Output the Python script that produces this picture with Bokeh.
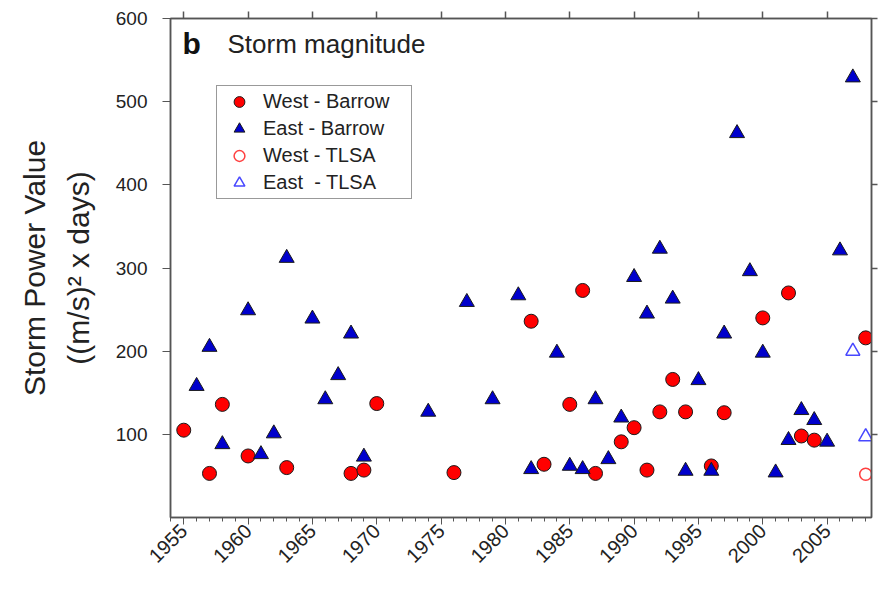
import math
from bokeh.plotting import figure
from bokeh.models import (Range1d, FixedTicker, LinearAxis, Legend, LegendItem, Label,
                          CustomLabelingPolicy)
from bokeh.embed import file_html
from bokeh.resources import INLINE

# ---- data ----
west_barrow_year = [1955, 1957, 1958, 1960, 1963, 1968, 1969, 1970, 1976, 1982, 1983, 1985, 1986,
                    1987, 1989, 1990, 1991, 1992, 1993, 1994, 1996, 1997, 2000, 2002, 2003, 2004, 2008]
west_barrow_value = [105, 53, 136, 74, 60, 53, 57, 137, 54, 236, 64, 136, 273,
                     53, 91, 108, 57, 127, 166, 127, 62, 126, 240, 270, 98, 93, 216]

east_barrow_year = [1956, 1957, 1958, 1960, 1961, 1962, 1963, 1965, 1966, 1967, 1968, 1969, 1974,
                    1977, 1979, 1981, 1982, 1984, 1985, 1986, 1987, 1988, 1989, 1990, 1991, 1992,
                    1993, 1994, 1995, 1996, 1997, 1998, 1999, 2000, 2001, 2002, 2003, 2004, 2005,
                    2006, 2007]
east_barrow_value = [158, 205, 88, 249, 76, 101, 312, 239, 142, 171, 221, 73, 127,
                     259, 142, 267, 58, 198, 62, 58, 142, 70, 120, 289, 245, 323,
                     263, 56, 165, 56, 221, 462, 296, 198, 54, 93, 129, 117, 91,
                     321, 529]

west_tlsa_year = [2008]
west_tlsa_value = [52]
east_tlsa_year = [2007, 2008]
east_tlsa_value = [200, 97]

x_tick_years = [1955, 1960, 1965, 1970, 1975, 1980, 1985, 1990, 1995, 2000, 2005]
x_minor_years = list(range(1954, 2009))
y_tick_values = [100, 200, 300, 400, 500, 600]

legend_labels = ["West - Barrow", "East - Barrow", "West - TLSA", "East\u00a0 - TLSA"]
panel_letter = "b"
panel_title = "Storm magnitude"
y_label_1 = "Storm Power Value"
y_label_2 = "((m/s)\u00b2 x days)"

FONT = "Liberation Sans"
AX = "#555555"
TXT = "#222222"

p = figure(width=882, height=573, output_backend="svg", toolbar_location=None,
           x_range=Range1d(1953.97, 2008.45), y_range=Range1d(0, 600),
           min_border_left=170, min_border_right=6, min_border_top=18, min_border_bottom=56)
p.background_fill_color = "white"
p.border_fill_color = "white"
p.outline_line_color = AX
p.outline_line_width = 1.5
p.xgrid.visible = False
p.ygrid.visible = False

# bottom axis
xa = p.xaxis[0]
xa.ticker = FixedTicker(ticks=x_tick_years, minor_ticks=x_minor_years)
xa.major_label_orientation = math.pi / 4
xa.major_label_text_font = FONT
xa.major_label_text_font_size = "20px"
xa.major_label_text_color = TXT
xa.major_label_standoff = 3
xa.major_tick_out = 7
xa.major_tick_in = 0
xa.minor_tick_out = 4
xa.minor_tick_in = 0
xa.axis_line_color = AX
xa.axis_line_width = 1.5
xa.major_tick_line_color = AX
xa.minor_tick_line_color = AX

# left axis with two-line title
ya = p.yaxis[0]
ya.ticker = FixedTicker(ticks=y_tick_values, minor_ticks=[])
ya.major_label_text_font = FONT
ya.major_label_text_font_size = "19px"
ya.major_label_text_color = TXT
ya.major_label_standoff = 15
ya.major_tick_out = 8
ya.major_tick_in = 0
ya.axis_line_color = AX
ya.axis_line_width = 1.5
ya.major_tick_line_color = AX
ya.axis_label = y_label_1 + "\n" + y_label_2
ya.axis_label_text_font = FONT
ya.axis_label_text_font_size = "30px"
ya.axis_label_text_font_style = "normal"
ya.axis_label_text_line_height = 1.33
ya.axis_label_text_color = TXT
ya.axis_label_standoff = 18

# top axis (ticks only)
ta = LinearAxis(ticker=FixedTicker(ticks=x_tick_years, minor_ticks=[]),
                major_label_text_font_size="1px", major_label_standoff=0,
                major_label_policy=CustomLabelingPolicy(code="return []"),
                major_tick_out=7, major_tick_in=0, minor_tick_out=0, minor_tick_in=0,
                axis_line_color=AX, axis_line_width=1.5, major_tick_line_color=AX,
                major_tick_line_width=1.5)
p.add_layout(ta, "above")

# right axis (ticks only)
ra = LinearAxis(ticker=FixedTicker(ticks=y_tick_values, minor_ticks=[]),
                major_label_text_font_size="1px", major_label_standoff=0,
                major_label_policy=CustomLabelingPolicy(code="return []"),
                major_tick_out=6, major_tick_in=0, minor_tick_out=0, minor_tick_in=0,
                axis_line_color=AX, axis_line_width=1.5, major_tick_line_color=AX,
                major_tick_line_width=1.5)
p.add_layout(ra, "right")

# markers
r_wb = p.scatter(west_barrow_year, west_barrow_value, marker="circle", size=14,
                 fill_color="#ff0000", line_color="#1a1a1a", line_width=1)
r_eb = p.scatter(east_barrow_year, east_barrow_value, marker="triangle", size=15,
                 fill_color="#0000cc", line_color="#1a1a1a", line_width=1)
r_wt = p.scatter(west_tlsa_year, west_tlsa_value, marker="circle", size=12,
                 fill_color=None, line_color="#ff4040", line_width=1.5)
r_et = p.scatter(east_tlsa_year, east_tlsa_value, marker="triangle", size=14,
                 fill_color=None, line_color="#4848ff", line_width=1.5)

legend = Legend(items=[LegendItem(label=legend_labels[0], renderers=[r_wb]),
                       LegendItem(label=legend_labels[1], renderers=[r_eb]),
                       LegendItem(label=legend_labels[2], renderers=[r_wt]),
                       LegendItem(label=legend_labels[3], renderers=[r_et])],
                location=(46, 318), padding=2, spacing=0,
                glyph_width=40, glyph_height=27, label_height=27, label_width=146,
                label_standoff=4, label_text_font=FONT, label_text_font_size="20px",
                label_text_color=TXT, border_line_color="#333333", border_line_width=1.5,
                background_fill_color="white", background_fill_alpha=1.0, margin=0)
p.add_layout(legend, "center")

# panel labels
p.add_layout(Label(x=1954.9, y=570, text=panel_letter, text_font=FONT, text_font_style="bold",
                   text_font_size="30px", text_color="#111111", text_baseline="alphabetic"))
p.add_layout(Label(x=1958.4, y=569, text=panel_title, text_font=FONT,
                   text_font_size="26px", text_color=TXT, text_baseline="alphabetic"))

open("out.html", "w").write(file_html(p, INLINE))
